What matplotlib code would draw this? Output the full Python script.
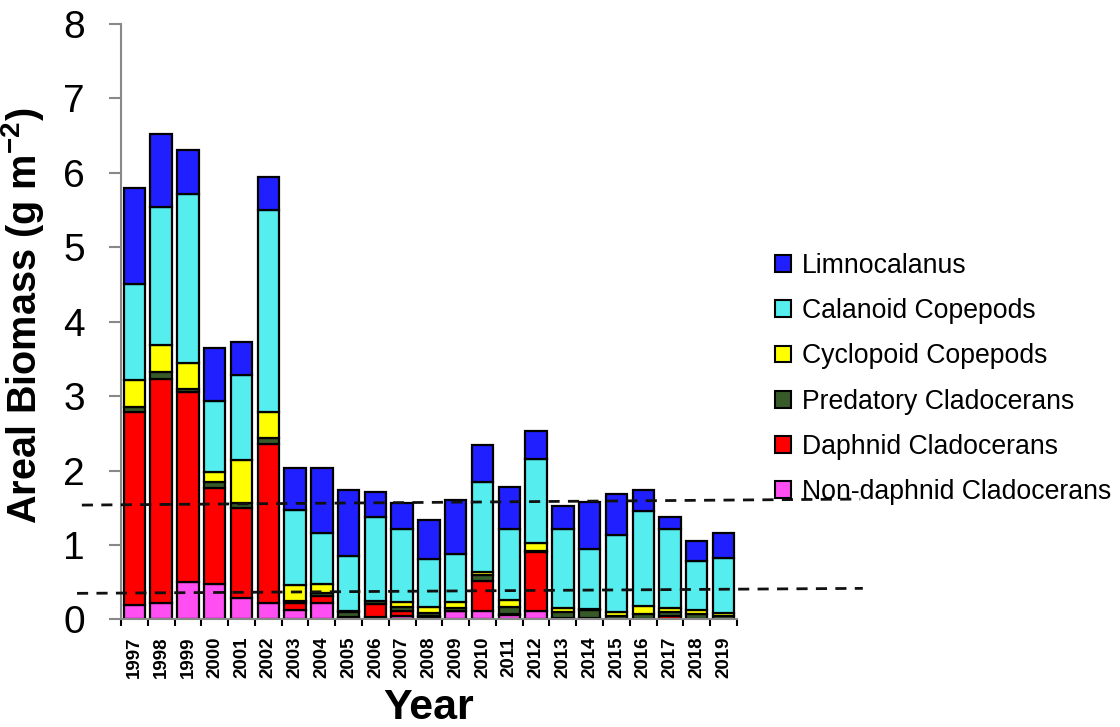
import matplotlib
matplotlib.use('Agg')
import matplotlib.pyplot as plt
from matplotlib.patches import Patch
import numpy as np

plt.rcParams['font.family'] = ['Liberation Sans', 'DejaVu Sans']
plt.rcParams['mathtext.default'] = 'regular'

years = [str(y) for y in range(1997, 2020)]

# areal biomass by group, g m-2
non_daphnid = [0.19, 0.22, 0.50, 0.47, 0.29, 0.22, 0.13, 0.22, 0.02, 0.03, 0.05, 0.03,
               0.11, 0.11, 0.06, 0.11, 0.01, 0.02, 0.01, 0.00, 0.01, 0.00, 0.01]
daphnid = [2.59, 3.01, 2.55, 1.30, 1.21, 2.14, 0.09, 0.09, 0.01, 0.18, 0.06, 0.01,
           0.00, 0.41, 0.01, 0.80, 0.01, 0.00, 0.00, 0.00, 0.04, 0.00, 0.00]
predatory = [0.08, 0.10, 0.04, 0.08, 0.06, 0.08, 0.03, 0.04, 0.07, 0.04, 0.05, 0.05,
             0.04, 0.07, 0.09, 0.01, 0.08, 0.11, 0.04, 0.07, 0.05, 0.07, 0.04]
cyclopoid = [0.36, 0.36, 0.35, 0.13, 0.58, 0.34, 0.21, 0.12, 0.01, 0.00, 0.08, 0.07,
             0.08, 0.05, 0.10, 0.11, 0.05, 0.01, 0.05, 0.11, 0.05, 0.055, 0.04]
calanoid = [1.29, 1.85, 2.28, 0.95, 1.15, 2.72, 1.01, 0.69, 0.74, 1.13, 0.98, 0.655,
            0.655, 1.20, 0.96, 1.125, 1.07, 0.80, 1.04, 1.275, 1.07, 0.66, 0.73]
limnocalanus = [1.29, 0.98, 0.59, 0.72, 0.44, 0.44, 0.57, 0.88, 0.89, 0.33, 0.34, 0.515,
                0.725, 0.51, 0.565, 0.375, 0.30, 0.64, 0.54, 0.285, 0.16, 0.275, 0.345]

labels = ['Non-daphnid Cladocerans', 'Daphnid Cladocerans', 'Predatory Cladocerans',
          'Cyclopoid Copepods', 'Calanoid Copepods', 'Limnocalanus']
colors = ['#ff4ff2', '#ff0000', '#385a28', '#ffff00', '#55eded', '#1f1fff']

# dashed reference lines: (x start, x end) in bar units, (y start, y end)
ref_x = [-1.96, 27.1]
ref_upper = [1.536, 1.617]
ref_x_low = [-2.14, 27.2]
ref_lower = [0.35, 0.417]

fig = plt.figure(figsize=(11.2, 7.27), dpi=100)
ax = fig.add_axes([0.108, 0.148, 0.55, 0.819])

x = np.arange(len(years))
bottom = np.zeros(len(years))
for vals, lab, col in zip([non_daphnid, daphnid, predatory, cyclopoid, calanoid, limnocalanus],
                          labels, colors):
    ax.bar(x, vals, 0.8, bottom=bottom, color=col, edgecolor='black', linewidth=1.6,
           label=lab, zorder=2)
    bottom += np.array(vals)

ax.plot(ref_x, ref_upper, color='#111111', lw=2, dashes=(4, 3), clip_on=False, zorder=3)
ax.plot(ref_x_low, ref_lower, color='#111111', lw=2, dashes=(4, 3), clip_on=False, zorder=3)

ax.set_xlim(-0.5, len(years) - 0.5)
ax.set_ylim(0, 8)
ax.set_yticks(range(0, 9))
ax.tick_params(axis='y', labelsize=28, length=9, width=1.5, color='#888888', pad=17)

ax.set_xticks(x)
ax.set_xticklabels(years, rotation=90, fontsize=13.5, fontweight='bold')
ax.set_xticks(np.arange(-0.5, len(years), 1), minor=True)
ax.tick_params(axis='x', which='major', length=0, pad=12)
ax.tick_params(axis='x', which='minor', length=5, width=1.5, color='black')

for s in ['top', 'right']:
    ax.spines[s].set_visible(False)
for s in ['left', 'bottom']:
    ax.spines[s].set_color('#888888')
    ax.spines[s].set_linewidth(1.5)

ax.set_ylabel('Areal Biomass (g m$^{-2}$)', fontsize=28.5, fontweight='bold')
ax.yaxis.set_label_coords(-0.122, 0.51)
ax.set_xlabel('Year', fontsize=31, fontweight='bold')
ax.xaxis.set_label_coords(0.5, -0.115)

handles = [Patch(facecolor=c, edgecolor='black', linewidth=1.5) for c in colors][::-1]
fig.legend(handles, labels[::-1], loc='upper left', bbox_to_anchor=(775 / 1120, 1 - 253 / 727),
           frameon=False, fontsize=19.2, handlelength=0.6, handleheight=0.6,
           handletextpad=0.4, labelspacing=0.72, borderpad=0, borderaxespad=0)

fig.savefig('out.png', dpi=100)
